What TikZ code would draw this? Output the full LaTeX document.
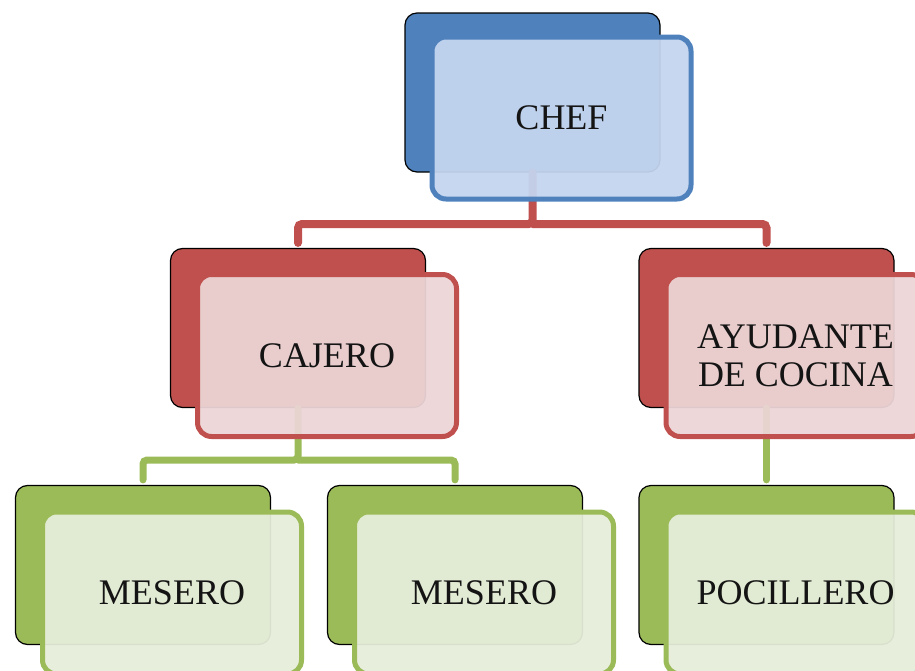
\documentclass[tikz,border=0pt]{standalone}
\usepackage{fontspec}
\setmainfont{Liberation Serif}
\definecolor{acBlue}{HTML}{4F81BD}
\definecolor{acRed}{HTML}{C0504D}
\definecolor{acGreen}{HTML}{9BBB59}
\definecolor{frBlue}{RGB}{196,213,239}
\definecolor{frRed}{RGB}{236,213,214}
\definecolor{frGreen}{RGB}{230,237,218}
\begin{document}
\begin{tikzpicture}[x=0.75pt,y=-0.75pt,
  backbox/.style={draw=black, line width=0.9pt, rounded corners=9pt,
    minimum width=191.25pt, minimum height=119.25pt, inner sep=0pt},
  frontbox/.style={line width=3.75pt, rounded corners=10.5pt,
    minimum width=194.25pt, minimum height=121.5pt, inner sep=0pt,
    fill opacity=0.94, text opacity=1, align=center, text=black!92,
    font=\fontsize{27}{28.5}\selectfont},
  redlink/.style={draw=acRed, line width=6pt, line cap=round, rounded corners=3pt},
  greenlink/.style={draw=acGreen, line width=5.25pt, line cap=round, rounded corners=3pt}
]
\useasboundingbox (0,0) rectangle (915,671);
\clip (0,0) rectangle (915,671);

% back cards
\node[backbox, fill=acBlue]  (chefB) at (532.5,92.5) {};
\node[backbox, fill=acRed]   (cajB)  at (298,328) {};
\node[backbox, fill=acRed]   (ayuB)  at (766.5,328) {};
\node[backbox, fill=acGreen] (mes1B) at (143,565) {};
\node[backbox, fill=acGreen] (mes2B) at (455,565) {};
\node[backbox, fill=acGreen] (pocB)  at (766.5,565) {};

% bus lines
\coordinate (redbus) at (532.5,224);
\coordinate (greenbus) at (298,460);

\draw[redlink] (chefB.south) -- (chefB.south |- redbus) -| ([yshift=3.75pt]cajB.north);
\draw[redlink] (chefB.south |- redbus) -| ([yshift=3.75pt]ayuB.north);

\draw[greenlink] (cajB.south) -- (cajB.south |- greenbus) -| ([yshift=3.75pt]mes1B.north);
\draw[greenlink] (cajB.south |- greenbus) -| ([yshift=3.75pt]mes2B.north);
\draw[greenlink] (ayuB.south) -- ([yshift=3.75pt]pocB.north);

% front cards with the titles
\node[frontbox, draw=acBlue,  fill=frBlue]  (chef) at (561.5,118)   {CHEF};
\node[frontbox, draw=acRed,   fill=frRed]   (caj)  at (327,355.5)   {CAJERO};
\node[frontbox, draw=acRed,   fill=frRed]   (ayu)  at (795.5,355.5) {AYUDANTE\\DE COCINA};
\node[frontbox, draw=acGreen, fill=frGreen] (mes1) at (172,593)     {MESERO};
\node[frontbox, draw=acGreen, fill=frGreen] (mes2) at (484,593)     {MESERO};
\node[frontbox, draw=acGreen, fill=frGreen] (poc)  at (795.5,593)   {POCILLERO};
\end{tikzpicture}
\end{document}
